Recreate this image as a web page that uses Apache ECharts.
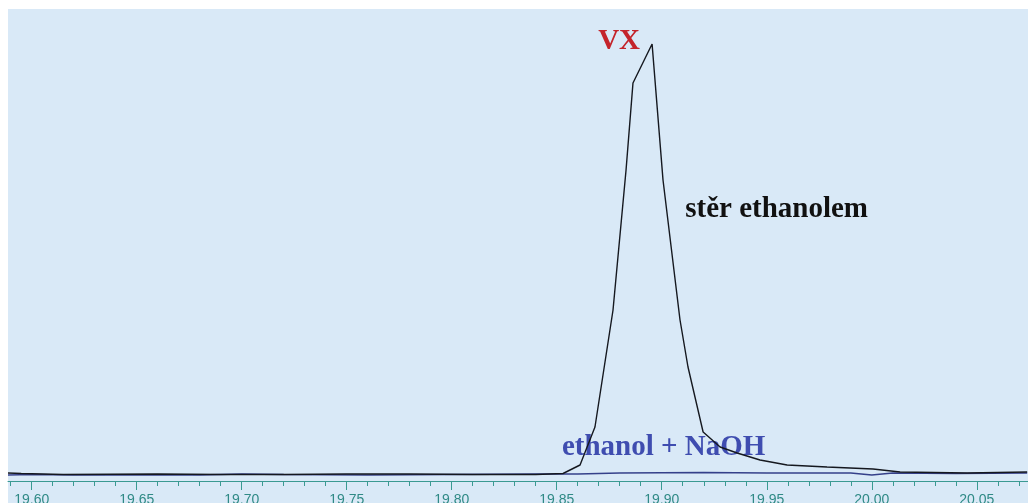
<!DOCTYPE html>
<html>
<head>
<meta charset="utf-8">
<script src="https://cdn.jsdelivr.net/npm/echarts@6/dist/echarts.min.js"></script>
<style>
html,body{margin:0;padding:0;background:#ffffff;}
#c{width:1028px;height:503px;}
</style>
</head>
<body>
<div id="c"></div>
<script>
// Retention time (min) axis
const xMin = 19.5887;
const xMax = 20.0744;
const majorTicks = [19.60, 19.65, 19.70, 19.75, 19.80, 19.85, 19.90, 19.95, 20.00, 20.05];
const minorTicks = [19.59,19.60,19.61,19.62,19.63,19.64,19.65,19.66,19.67,19.68,19.69,19.70,19.71,19.72,19.73,19.74,19.75,19.76,19.77,19.78,19.79,19.80,19.81,19.82,19.83,19.84,19.85,19.86,19.87,19.88,19.89,19.90,19.91,19.92,19.93,19.94,19.95,19.96,19.97,19.98,19.99,20.00,20.01,20.02,20.03,20.04,20.05,20.06,20.07];

// "stěr ethanolem" trace (relative intensity)
const sterTime = [19.5887,19.5950,19.6050,19.6150,19.6600,19.6900,19.7200,19.7500,19.7800,19.8100,19.8400,19.8530,19.8611,19.8682,19.8768,19.8830,19.8863,19.8954,19.9006,19.9087,19.9125,19.9197,19.9278,19.9359,19.9468,19.9597,19.9787,20.0006,20.0135,20.0454,20.0740];
const sterVal  = [8,7.5,7,6.5,7,6.5,6.5,7,7,6.5,6.5,7.5,16,54,171,311,398,437,301,161,114,49,34,28,21,16,14,12,9,8,9];

// "ethanol + NaOH" trace
const naohTime = [19.5887,19.6000,19.6200,19.6800,19.7000,19.7200,19.7600,19.8000,19.8400,19.8600,19.8800,19.9200,19.9500,19.9900,20.0000,20.0100,20.0400,20.0740];
const naohVal  = [6,6.5,6,6,7,6.5,6,6.5,7,7,8,8.5,8,8,6,8,7.5,8];

// Annotations
const labelText = ['VX', 'stěr ethanolem', 'ethanol + NaOH'];
const labelX = [19.8797, 19.9547, 19.9009];
const labelY = [439, 271, 33];
const labelColor = ['#c4242b', '#111111', '#3f4db0'];

const zip = (a, b) => a.map((v, i) => [v, b[i]]);

const chart = echarts.init(document.getElementById('c'), null, {renderer: 'canvas'});
const axisColor = '#3a9a92';
chart.setOption({
  animation: false,
  backgroundColor: '#ffffff',
  graphic: [{
    type: 'rect', left: 8, top: 9, z: -10,
    shape: {width: 1020, height: 494},
    style: {fill: '#d9e9f7'}
  }],
  grid: {left: 8, right: 0, top: 9, bottom: 22, containLabel: false, outerBoundsMode: 'none'},
  xAxis: [{
    type: 'value', min: xMin, max: xMax, position: 'bottom',
    axisLine: {show: true, onZero: false, lineStyle: {color: axisColor, width: 1}},
    axisTick: {show: true, inside: false, length: 5, customValues: minorTicks, lineStyle: {color: axisColor}},
    axisLabel: {show: true, customValues: majorTicks, margin: 12, color: '#2f8a86',
      fontFamily: 'Liberation Sans Narrow, Arial, sans-serif', fontSize: 14,
      formatter: v => v.toFixed(2)},
    splitLine: {show: false}
  }, {
    type: 'value', min: xMin, max: xMax, position: 'bottom',
    axisLine: {show: false},
    axisTick: {show: true, inside: false, length: 9, customValues: majorTicks, lineStyle: {color: axisColor}},
    axisLabel: {show: false},
    splitLine: {show: false}
  }],
  yAxis: {type: 'value', min: 0, max: 472, show: false},
  series: [{
    type: 'line', xAxisIndex: 0, data: zip(naohTime, naohVal), symbol: 'none',
    lineStyle: {color: '#35408a', width: 1.4}, z: 3
  }, {
    type: 'line', xAxisIndex: 0, data: zip(sterTime, sterVal), symbol: 'none',
    lineStyle: {color: '#15181f', width: 1.4}, z: 4
  }, {
    type: 'scatter', xAxisIndex: 0, symbolSize: 0, z: 2,
    itemStyle: {opacity: 1},
    data: labelText.map((t, i) => ({name: t, value: [labelX[i], labelY[i]],
      label: {color: labelColor[i], opacity: 1}})),
    label: {show: true, position: 'inside', formatter: p => p.name, opacity: 1,
      fontFamily: 'Liberation Serif, Times New Roman, serif', fontWeight: 'bold', fontSize: 29},
    silent: true
  }]
});
</script>
</body>
</html>
